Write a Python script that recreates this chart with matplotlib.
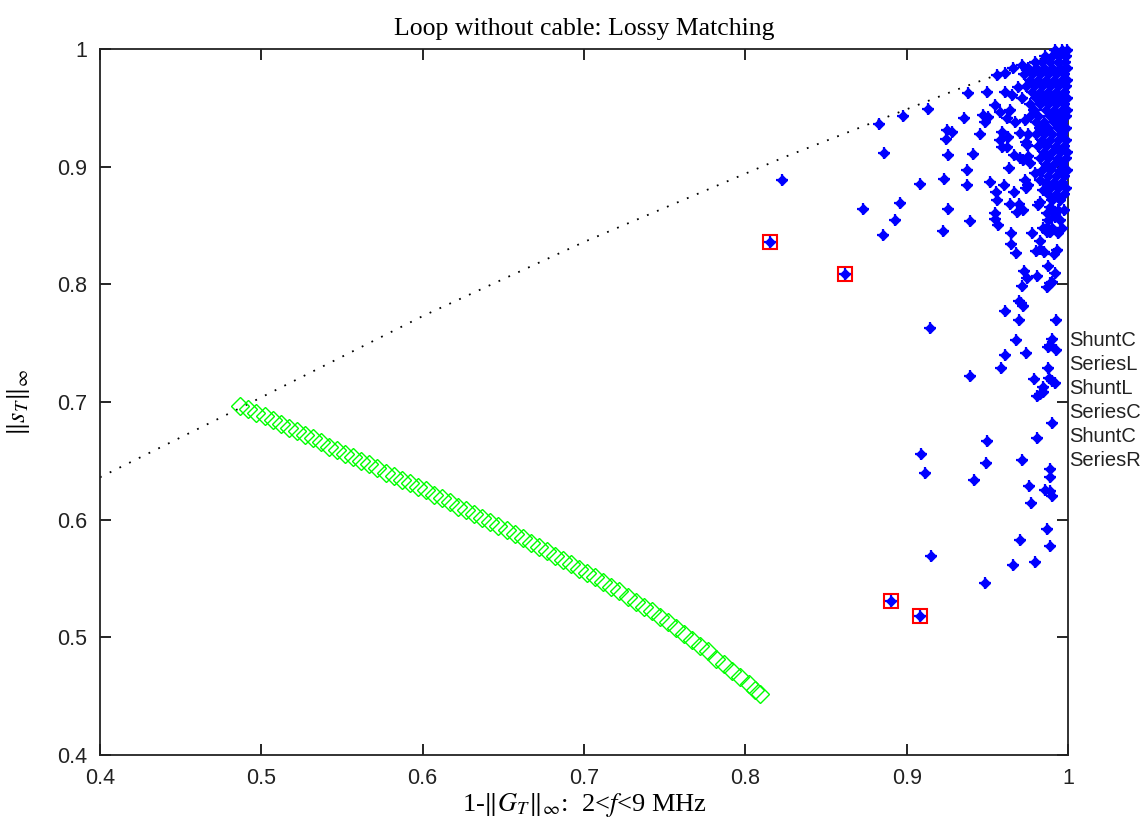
import matplotlib
matplotlib.use("Agg")
import matplotlib.pyplot as plt

plt.rcParams["mathtext.fontset"] = "stix"

# ---------------- data ----------------
title_text = "Loop without cable: Lossy Matching"
x_ticks = [0.4, 0.5, 0.6, 0.7, 0.8, 0.9, 1.0]
x_tick_labels = ["0.4", "0.5", "0.6", "0.7", "0.8", "0.9", "1"]
y_ticks = [0.4, 0.5, 0.6, 0.7, 0.8, 0.9, 1.0]
y_tick_labels = ["0.4", "0.5", "0.6", "0.7", "0.8", "0.9", "1"]
side_labels = ["ShuntC", "SeriesL", "ShuntL", "SeriesC", "ShuntC", "SeriesR"]

# dotted bound
bound_x = [0.400, 0.487, 0.600, 0.700, 0.824, 0.934, 1.000]
bound_y = [0.636, 0.695, 0.773, 0.836, 0.908, 0.967, 1.000]

# green diamonds
green_x = [0.487, 0.492, 0.497, 0.502, 0.507, 0.512, 0.517, 0.522, 0.527, 0.532,
           0.537, 0.542, 0.547, 0.552, 0.557, 0.562, 0.567, 0.572, 0.577, 0.582,
           0.587, 0.592, 0.597, 0.602, 0.607, 0.612, 0.617, 0.622, 0.627, 0.632,
           0.637, 0.642, 0.647, 0.652, 0.657, 0.662, 0.667, 0.672, 0.677, 0.682,
           0.687, 0.692, 0.697, 0.702, 0.707, 0.712, 0.717, 0.722, 0.727, 0.732,
           0.737, 0.742, 0.747, 0.752, 0.757, 0.762, 0.767, 0.772, 0.777, 0.782,
           0.787, 0.792, 0.797, 0.802, 0.806, 0.809]
green_y = [0.697, 0.694, 0.691, 0.688, 0.685, 0.681, 0.678, 0.675, 0.672, 0.669,
           0.666, 0.662, 0.659, 0.656, 0.653, 0.650, 0.647, 0.644, 0.640, 0.637,
           0.634, 0.631, 0.628, 0.625, 0.621, 0.618, 0.615, 0.611, 0.608, 0.605,
           0.601, 0.598, 0.595, 0.591, 0.588, 0.584, 0.580, 0.577, 0.573, 0.569,
           0.566, 0.562, 0.558, 0.555, 0.551, 0.547, 0.543, 0.539, 0.534, 0.530,
           0.526, 0.522, 0.517, 0.513, 0.508, 0.503, 0.498, 0.493, 0.488, 0.482,
           0.477, 0.471, 0.466, 0.460, 0.455, 0.452]

# selected (red-boxed) designs
red_x = [0.8154, 0.8617, 0.8900, 0.9080]
red_y = [0.8357, 0.8090, 0.5310, 0.5180]

# scattered blue designs (x, y)
blue_sparse = [
    (0.909, 0.656), (0.9113, 0.640), (0.950, 0.667), (0.9494, 0.648), (0.9415, 0.634),
    (0.981, 0.669), (0.9717, 0.651), (0.9888, 0.643), (0.9888, 0.6365), (0.9758, 0.629),
    (0.9856, 0.625), (0.9888, 0.624), (0.9899, 0.620), (0.9769, 0.614), (0.9899, 0.6824),
    (0.987, 0.592), (0.970, 0.583), (0.9888, 0.578), (0.9153, 0.569), (0.9657, 0.5615),
    (0.9795, 0.564), (0.9485, 0.546),
    (0.9223, 0.8453), (0.9647, 0.8439), (0.9777, 0.8434), (0.9868, 0.8447), (0.9888, 0.8447),
    (0.9936, 0.8434), (0.9826, 0.837), (0.9645, 0.834), (0.9678, 0.827), (0.9802, 0.8286),
    (0.9826, 0.8298), (0.9851, 0.8277), (0.9913, 0.8258), (0.993, 0.8292), (0.9878, 0.8156),
    (0.9729, 0.8116), (0.992, 0.8094), (0.9747, 0.8051), (0.9808, 0.8068), (0.9899, 0.8022),
    (0.9888, 0.8009), (0.9717, 0.7988), (0.9868, 0.7975), (0.9696, 0.7861), (0.9708, 0.7839),
    (0.9724, 0.7818), (0.9608, 0.7773), (0.9697, 0.7694), (0.9928, 0.7694), (0.9144, 0.7632),
    (0.9678, 0.753), (0.9899, 0.7533), (0.9888, 0.7485), (0.9878, 0.7465), (0.9928, 0.7442),
    (0.9608, 0.7397), (0.9738, 0.7414), (0.9585, 0.7286), (0.9878, 0.7286), (0.9394, 0.7221),
    (0.9792, 0.7196), (0.9882, 0.7207), (0.9899, 0.7181), (0.992, 0.7159), (0.9848, 0.7125),
    (0.9844, 0.7087), (0.9826, 0.7068), (0.981, 0.7054),
    (0.8828, 0.9365), (0.8979, 0.943), (0.913, 0.9493), (0.9248, 0.9314), (0.9242, 0.9238),
    (0.8859, 0.9114), (0.9254, 0.9099), (0.8226, 0.8884), (0.9082, 0.8855), (0.9231, 0.8895),
    (0.896, 0.8691), (0.8729, 0.864), (0.9257, 0.864), (0.8929, 0.8549), (0.8852, 0.8422),
    (0.928, 0.9297), (0.9454, 0.9278), (0.9589, 0.9297), (0.9578, 0.9227), (0.9589, 0.917),
    (0.962, 0.917), (0.963, 0.9255), (0.9702, 0.9284), (0.9754, 0.9278), (0.974, 0.9212),
    (0.9748, 0.9184), (0.9413, 0.9108), (0.9665, 0.9099), (0.9702, 0.9071), (0.9723, 0.9057),
    (0.9754, 0.9091), (0.9764, 0.9029), (0.9636, 0.8986), (0.9372, 0.8972), (0.9374, 0.8844),
    (0.9516, 0.8867), (0.9605, 0.8844), (0.9553, 0.8782), (0.9558, 0.8717), (0.9665, 0.8782),
    (0.9733, 0.8887), (0.9754, 0.8844), (0.974, 0.8816), (0.9796, 0.8949), (0.9826, 0.8887),
    (0.9847, 0.8802), (0.9643, 0.8683), (0.9696, 0.8683), (0.9686, 0.8617), (0.9721, 0.8632),
    (0.9826, 0.8702), (0.9816, 0.8674), (0.9888, 0.866), (0.9909, 0.8617), (0.9868, 0.8604),
    (0.992, 0.8575), (0.9547, 0.8604), (0.9547, 0.8553), (0.9568, 0.8504), (0.9394, 0.8538),
    (0.9868, 0.849), (0.9847, 0.8476),
    (0.9382, 0.9624), (0.9496, 0.9632), (0.9355, 0.9411), (0.9558, 0.9779), (0.961, 0.9793),
    (0.9661, 0.9836), (0.9713, 0.9864), (0.9547, 0.9524), (0.9578, 0.9467), (0.964, 0.9481),
    (0.9475, 0.9439), (0.9506, 0.9425), (0.9485, 0.9382), (0.961, 0.9637), (0.9651, 0.9609),
    (0.9692, 0.968), (0.962, 0.9411), (0.9671, 0.9382), (0.9733, 0.9397),
]

# dense blue cluster near (1, 1) (x, y)
blue_dense = [
    (0.9919, 0.9992), (0.9963, 0.9992), (0.9994, 0.9992),
    (0.9857, 0.9940), (0.9901, 0.9940), (0.9944, 0.9940), (0.9988, 0.9940),
    (0.9795, 0.9890), (0.9839, 0.9890), (0.9888, 0.9890), (0.9938, 0.9890), (0.9981, 0.9890),
    (0.9752, 0.9839), (0.9802, 0.9839), (0.9851, 0.9839), (0.9901, 0.9839), (0.9950, 0.9839), (0.9994, 0.9839),
    (0.9727, 0.9788), (0.9777, 0.9788), (0.9826, 0.9788), (0.9876, 0.9788), (0.9926, 0.9788), (0.9975, 0.9788),
    (0.9764, 0.9737), (0.9814, 0.9737), (0.9864, 0.9737), (0.9913, 0.9737), (0.9963, 0.9737), (0.9994, 0.9737),
    (0.9740, 0.9686), (0.9789, 0.9686), (0.9839, 0.9686), (0.9888, 0.9686), (0.9938, 0.9686), (0.9988, 0.9686),
    (0.9777, 0.9635), (0.9826, 0.9635), (0.9876, 0.9635), (0.9926, 0.9635), (0.9975, 0.9635),
    (0.9715, 0.9584), (0.9802, 0.9584), (0.9851, 0.9584), (0.9901, 0.9584), (0.9950, 0.9584), (0.9994, 0.9584),
    (0.9764, 0.9533), (0.9826, 0.9533), (0.9876, 0.9533), (0.9926, 0.9533), (0.9975, 0.9533),
    (0.9789, 0.9482), (0.9864, 0.9482), (0.9913, 0.9482), (0.9963, 0.9482), (0.9994, 0.9482),
    (0.9764, 0.9431), (0.9814, 0.9431), (0.9888, 0.9431), (0.9938, 0.9431), (0.9988, 0.9431),
    (0.9802, 0.9380), (0.9851, 0.9380), (0.9913, 0.9380), (0.9963, 0.9380),
    (0.9826, 0.9329), (0.9876, 0.9329), (0.9938, 0.9329), (0.9988, 0.9329),
    (0.9802, 0.9278), (0.9851, 0.9278), (0.9901, 0.9278), (0.9963, 0.9278),
    (0.9839, 0.9227), (0.9888, 0.9227), (0.9938, 0.9227), (0.9988, 0.9227),
    (0.9814, 0.9176), (0.9864, 0.9176), (0.9926, 0.9176), (0.9975, 0.9176),
    (0.9851, 0.9125), (0.9901, 0.9125), (0.9950, 0.9125), (0.9994, 0.9125),
    (0.9826, 0.9074), (0.9876, 0.9074), (0.9938, 0.9074), (0.9988, 0.9074),
    (0.9864, 0.9023), (0.9913, 0.9023), (0.9963, 0.9023),
    (0.9839, 0.8972), (0.9888, 0.8972), (0.9950, 0.8972), (0.9994, 0.8972),
    (0.9876, 0.8921), (0.9926, 0.8921), (0.9975, 0.8921),
    (0.9864, 0.8870), (0.9913, 0.8870), (0.9963, 0.8870),
    (0.9888, 0.8819), (0.9938, 0.8819), (0.9988, 0.8819),
    (0.9876, 0.8768), (0.9926, 0.8768), (0.9975, 0.8768),
    (0.9901, 0.8717), (0.9950, 0.8717),
    (0.9938, 0.8632), (0.9975, 0.8632),
    (0.9876, 0.8547), (0.9950, 0.8547),
    (0.9901, 0.8479), (0.9963, 0.8479),
]

# ---------------- figure ----------------
fig = plt.figure(figsize=(11.45, 8.21), dpi=100)
ax = fig.add_axes([100 / 1145, 1 - 755 / 821, 968 / 1145, 706 / 821])

blue = "#0000ff"
green = "#00ff00"

ax.plot(bound_x, bound_y, color="black", linestyle=(0, (1, 5)), linewidth=1.3, zorder=1)

ax.plot(green_x, green_y, linestyle="none", marker="D", markersize=9.5,
        markerfacecolor="none", markeredgecolor=green, markeredgewidth=1.0, zorder=2)

bx = [p[0] for p in blue_sparse + blue_dense] + red_x
by = [p[1] for p in blue_sparse + blue_dense] + red_y
ax.plot(bx, by, linestyle="none", marker="D", markersize=5.0,
        markerfacecolor=blue, markeredgecolor=blue, markeredgewidth=0.8,
        zorder=3, clip_on=False)
ax.plot(bx, by, linestyle="none", marker="+", markersize=8.0,
        color=blue, markeredgewidth=1.6, zorder=3, clip_on=False)

ax.plot(red_x, red_y, linestyle="none", marker="s", markersize=10,
        markerfacecolor="none", markeredgecolor="red", markeredgewidth=1.5, zorder=4)

ax.set_xlim(0.4, 1.0)
ax.set_ylim(0.4, 1.0)
ax.set_xticks(x_ticks)
ax.set_xticklabels(x_tick_labels)
ax.set_yticks(y_ticks)
ax.set_yticklabels(y_tick_labels)

ax.tick_params(direction="in", length=8, width=1.2, top=True, right=True,
               labelsize=15.5, pad=9, colors="black")
for lab in ax.get_xticklabels() + ax.get_yticklabels():
    lab.set_fontfamily("Liberation Sans")
    lab.set_color("#222222")
for sp in ax.spines.values():
    sp.set_linewidth(1.3)
    sp.set_color("#222222")

ax.set_title(title_text, fontsize=18.5, family="Liberation Serif", pad=10)
ax.set_xlabel(r"1-$\Vert G_T\Vert_{\infty}$:  2<$f$<9 MHz", fontsize=19,
              family="Liberation Serif", labelpad=2)
ax.set_ylabel(r"$\Vert s_T\Vert_{\infty}$", fontsize=19, family="Liberation Serif",
              labelpad=18)

# side labels of the topology
y0 = 1 - 340 / 821
for i, s in enumerate(side_labels):
    fig.text(1069 / 1145, y0 - i * 24 / 821, s, fontsize=14.5, family="Liberation Sans",
             ha="left", va="center", color="#222222")

fig.savefig("out.png", dpi=100, facecolor="white")
